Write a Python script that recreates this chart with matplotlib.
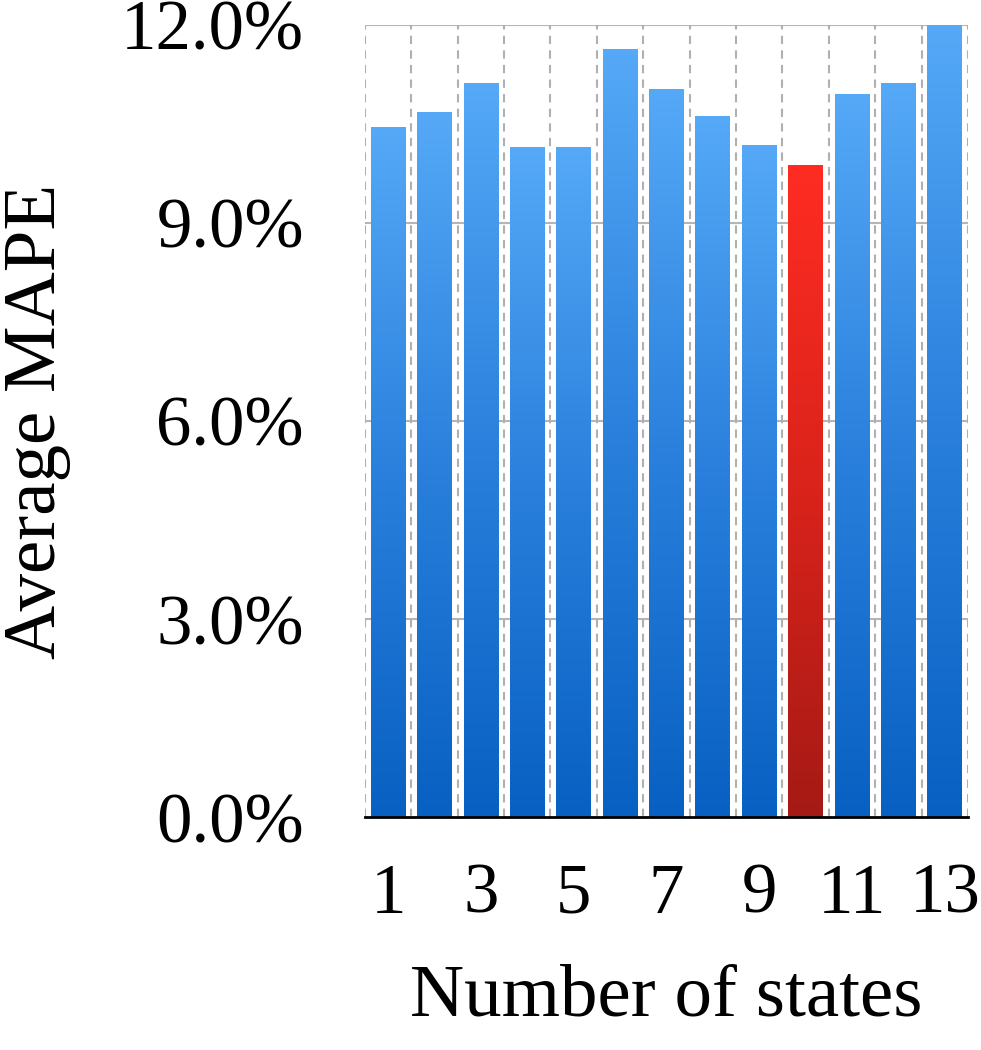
import numpy as np
import matplotlib.pyplot as plt
from matplotlib.colors import LinearSegmentedColormap
from matplotlib.ticker import FuncFormatter

# Average MAPE (%) per number of states
states = list(range(1, 14))
mape = [10.45, 10.68, 11.12, 10.15, 10.15, 11.64, 11.03, 10.62, 10.18, 9.88, 10.96, 11.12, 12.0]
best_state = 10
xtick_labels = ['1', '3', '5', '7', '9', '11', '13']
ytick_vals = [0, 3, 6, 9, 12]

plt.rcParams['font.family'] = ['Liberation Serif', 'DejaVu Serif']

blue_cmap = LinearSegmentedColormap.from_list('blu', ['#0860c2', '#2a80dc', '#55a9f7'])
red_cmap = LinearSegmentedColormap.from_list('red', ['#a51a15', '#d9231b', '#ff2c22'])

fig = plt.figure(figsize=(9.81, 10.5), dpi=100)
ax = fig.add_axes([0.372, 0.2219, 0.6147, 0.7543])

bars = ax.bar(states, mape, width=0.75, color='none', edgecolor='none', zorder=3)
grad = np.linspace(0, 1, 256).reshape(-1, 1)
for s, b in zip(states, bars):
    x0, y0 = b.get_x(), b.get_y()
    w, h = b.get_width(), b.get_height()
    cmap = red_cmap if s == best_state else blue_cmap
    im = ax.imshow(grad, extent=[x0, x0 + w, y0, y0 + h], origin='lower',
                   aspect='auto', cmap=cmap, zorder=3)
    im.set_clip_path(b)

ax.set_xlim(0.5, 13.5)
ax.set_ylim(0, 12)

# gridlines
for yv in ytick_vals[1:]:
    ax.axhline(yv, color='#b5b5b5', lw=1.5, zorder=1)
for xv in np.arange(0.5, 14, 1):
    ax.axvline(xv, color='#b0b0b0', lw=1.5, ls=(0, (4, 3)), zorder=1)

for sp in ['top', 'right', 'left']:
    ax.spines[sp].set_visible(False)
ax.spines['bottom'].set_color('black')
ax.spines['bottom'].set_linewidth(2)
ax.spines['bottom'].set_zorder(4)

ax.set_yticks(ytick_vals)
ax.yaxis.set_major_formatter(FuncFormatter(lambda v, p: '{:.1f}%'.format(v)))
ax.set_xticks([int(t) for t in xtick_labels])
ax.set_xticklabels(xtick_labels)
ax.tick_params(axis='both', length=0, labelsize=51)
ax.tick_params(axis='y', pad=44)
ax.tick_params(axis='x', pad=33)

ax.set_xlabel('Number of states', fontsize=54, labelpad=26)
ax.set_ylabel('Average MAPE', fontsize=54, labelpad=36)

fig.savefig('out.png', dpi=100)
